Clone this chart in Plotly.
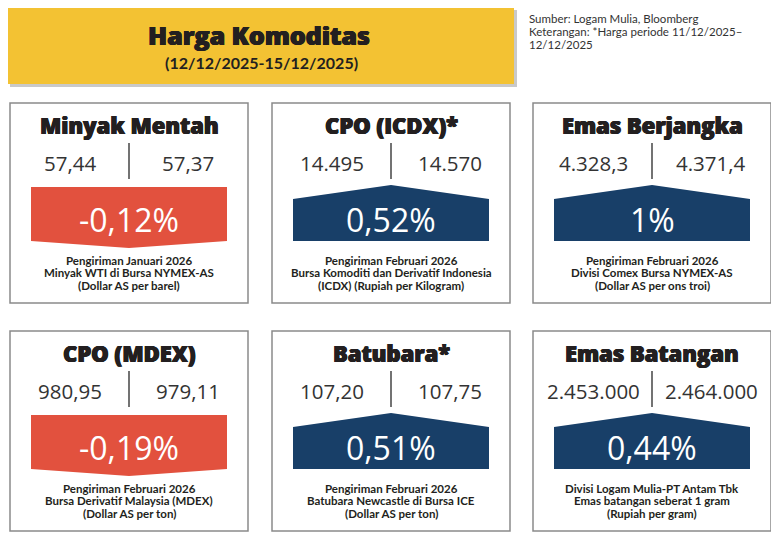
import plotly.graph_objects as go

# ---- data ----
commodities = ["Minyak Mentah", "CPO (ICDX)*", "Emas Berjangka",
               "CPO (MDEX)", "Batubara*", "Emas Batangan"]
prev_values = ["57,44", "14.495", "4.328,3", "980,95", "107,20", "2.453.000"]
curr_values = ["57,37", "14.570", "4.371,4", "979,11", "107,75", "2.464.000"]
changes = [-0.12, 0.52, 1.0, -0.19, 0.51, 0.44]
change_labels = ["-0,12%", "0,52%", "1%", "-0,19%", "0,51%", "0,44%"]
notes = [
    ["Pengiriman Januari 2026", "Minyak WTI di Bursa NYMEX-AS", "(Dollar AS per barel)"],
    ["Pengiriman Februari 2026", "Bursa Komoditi dan Derivatif Indonesia", "(ICDX) (Rupiah per Kilogram)"],
    ["Pengiriman Februari 2026", "Divisi Comex Bursa NYMEX-AS", "(Dollar AS per ons troi)"],
    ["Pengiriman Februari 2026", "Bursa Derivatif Malaysia (MDEX)", "(Dollar AS per ton)"],
    ["Pengiriman Februari 2026", "Batubara Newcastle di Bursa ICE", "(Dollar AS per ton)"],
    ["Divisi Logam Mulia-PT Antam Tbk", "Emas batangan seberat 1 gram", "(Rupiah per gram)"],
]
title = "Harga Komoditas"
period = "(12/12/2025-15/12/2025)"
source_lines = ["Sumber: Logam Mulia, Bloomberg",
                "Keterangan: *Harga periode 11/12/2025\u2013",
                "12/12/2025"]

# ---- layout constants (pixel space of the page) ----
W, H = 779, 546
PAD = 8  # page body margin, axes start there so coords == screen pixels
col_left = [10, 272, 533]
row_top = [103, 331]
box_w, box_h = 238, 200
inset = 21
RED = "#E2513E"
NAVY = "#183F68"
YELLOW = "#F3C233"
DARK = "#231F20"
# fake a black-weight face by smearing the extra-bold one a little
FAT = f"0.6px 0 0 {DARK}, -0.6px 0 0 {DARK}, 0 0.4px 0 {DARK}"
HEAVY = dict(family="Open Sans", weight=800, color=DARK, shadow=FAT)

fig = go.Figure()
shapes = []
ann = []

# header banner with shadow
shapes.append(dict(type="rect", x0=10, x1=517, y0=10, y1=87, fillcolor="#C9C9C9",
                   line=dict(width=0), layer="below"))
shapes.append(dict(type="rect", x0=7, x1=514, y0=7, y1=84, fillcolor=YELLOW,
                   line=dict(width=0), layer="below"))
ann.append(dict(x=259, y=35, text=title, font=dict(HEAVY, size=25)))
ann.append(dict(x=261, y=62, text=period, font=dict(family="Lato", size=16, color=DARK, weight=700)))
for i, line in enumerate(source_lines):
    ann.append(dict(x=527, y=18 + i * 13, text=line, xanchor="left",
                    font=dict(family="Lato", size=11.5, color="#333333")))

for i, name in enumerate(commodities):
    x0 = col_left[i % 3]
    y0 = row_top[i // 3]
    cx = x0 + box_w / 2
    shapes.append(dict(type="rect", x0=x0, x1=x0 + box_w, y0=y0, y1=y0 + box_h,
                       fillcolor="white", line=dict(color="#8A8A8A", width=1.5), layer="below"))
    ann.append(dict(x=cx, y=y0 + 22, text=name, font=dict(HEAVY, size=22)))
    ann.append(dict(x=cx - 59, y=y0 + 60, text=prev_values[i],
                    font=dict(family="Open Sans", size=20.5, color="#333333")))
    ann.append(dict(x=cx + 59, y=y0 + 60, text=curr_values[i],
                    font=dict(family="Open Sans", size=20.5, color="#333333")))
    shapes.append(dict(type="line", x0=cx, x1=cx, y0=y0 + 40, y1=y0 + 76,
                       line=dict(color="#444444", width=1.5)))

    ax0, ax1 = x0 + inset, x0 + box_w - inset
    if changes[i] < 0:
        xs = [ax0, ax1, ax1, cx, ax0, ax0]
        ys = [y0 + 84, y0 + 84, y0 + 138, y0 + 145, y0 + 138, y0 + 84]
        color = RED
    else:
        xs = [ax0, cx, ax1, ax1, ax0, ax0]
        ys = [y0 + 96, y0 + 82, y0 + 96, y0 + 138, y0 + 138, y0 + 96]
        color = NAVY
    fig.add_trace(go.Scatter(x=xs, y=ys, fill="toself", fillcolor=color, mode="lines",
                             line=dict(width=0, color=color), hoverinfo="skip", showlegend=False))
    ann.append(dict(x=cx, y=y0 + 116, text=change_labels[i],
                    font=dict(family="Open Sans", size=32, color="white", weight=500)))
    for j, line in enumerate(notes[i]):
        ann.append(dict(x=cx, y=y0 + 157 + j * 12.5, text=line,
                        font=dict(family="Lato", size=11.5, color=DARK, weight=700)))

for a in ann:
    a.update(xref="x", yref="y", showarrow=False, yanchor="middle")
    a.setdefault("xanchor", "center")

fig.update_layout(
    width=W - PAD, height=H - PAD, margin=dict(l=0, r=0, t=0, b=0),
    paper_bgcolor="white", plot_bgcolor="white",
    xaxis=dict(range=[PAD, W], visible=False, fixedrange=True),
    yaxis=dict(range=[H, PAD], visible=False, fixedrange=True),
    shapes=shapes, annotations=ann, showlegend=False,
)

fig.write_html("out.html")
